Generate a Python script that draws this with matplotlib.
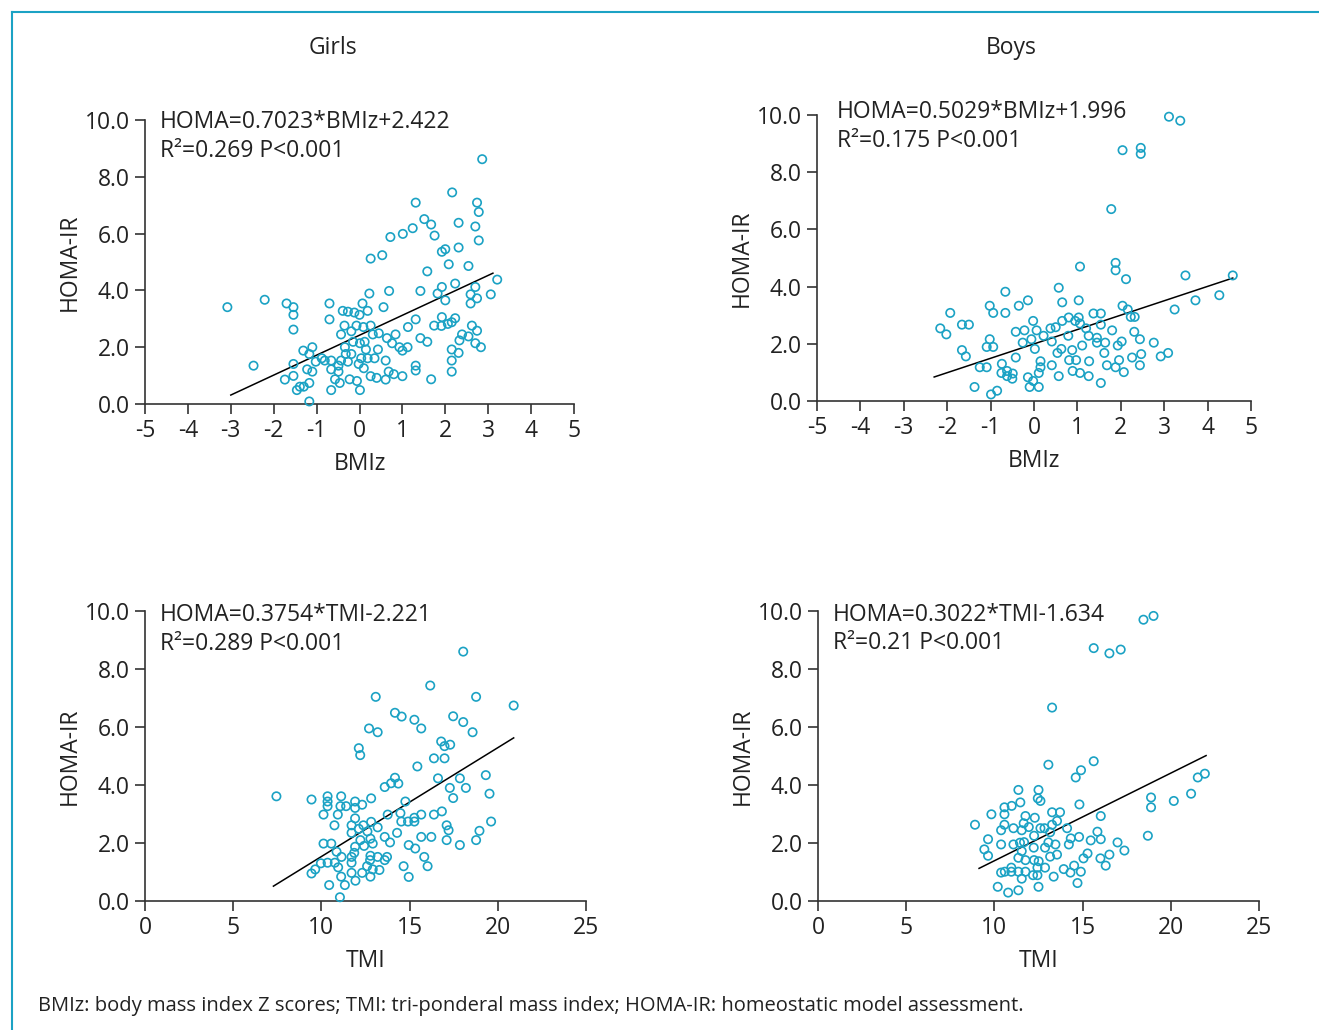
import matplotlib
matplotlib.use("Agg")
import matplotlib.pyplot as plt
from matplotlib.lines import Line2D

plt.rcParams['font.family'] = ['Open Sans', 'DejaVu Sans']
plt.rcParams['axes.unicode_minus'] = False

# ---- data ----
girls_bmiz = [2.86, 2.16, 1.31, 2.74, 2.78, 1.51, 1.67, 2.31, 1.24, 2.70, 1.75, 1.01, 0.72, 2.78, 2.31,
              1.92, 2.00, 0.53, 0.26, 2.08, 2.54, 1.58, 3.21, 2.23, 1.92, 2.70, 1.42, 0.69, 0.23, 1.82,
              2.59, 3.06, 2.74, 2.00, 2.59, 0.07, -0.70, -1.70, -1.54, -3.08, -2.21, 0.56, 0.19, -0.39,
              -0.27, -0.12, 0.00, -1.54, -0.70, 1.31, 1.92, 2.23, 2.15, 2.06, 1.74, 1.91, 2.62, 2.74,
              -0.35, -0.07, 0.26, 0.09, 1.13, -1.54, -0.19, -0.43, 0.31, 0.45, 0.84, 2.39, 2.54, 0.64,
              1.42, 2.33, -0.15, 0.76, 1.58, 2.70, 0.01, 0.12, 0.93, 1.12, 2.83, -0.34, 0.15, 0.43,
              1.00, 2.15, -1.31, -1.10, -1.17, -0.32, -0.19, 2.31, -0.88, -0.81, -1.02, -0.66, -0.43,
              0.04, 0.19, 0.35, 0.61, 2.15, -1.54, -2.47, -0.49, -0.27, -0.02, 1.31, -0.66, -1.22,
              -1.10, -0.49, 0.10, 0.68, 0.80, 1.31, 2.15, -1.54, -1.74, -0.57, -0.46, -0.23, -0.06,
              0.26, 0.40, 0.61, 1.00, 1.67, -1.17, -1.30, -1.39, -1.46, -0.66, 0.01, -1.17]
girls_bmiz_homa = [8.62, 7.45, 7.09, 7.09, 6.76, 6.51, 6.32, 6.38, 6.19, 6.25, 5.93, 5.99, 5.88, 5.76, 5.51,
                   5.36, 5.45, 5.24, 5.12, 4.92, 4.86, 4.67, 4.38, 4.24, 4.12, 4.12, 3.98, 3.98, 3.89, 3.89,
                   3.86, 3.86, 3.72, 3.65, 3.54, 3.54, 3.54, 3.54, 3.41, 3.41, 3.67, 3.41, 3.28, 3.28,
                   3.25, 3.22, 3.14, 3.14, 2.98, 2.98, 3.06, 3.02, 2.88, 2.82, 2.76, 2.75, 2.76, 2.58,
                   2.76, 2.76, 2.76, 2.71, 2.71, 2.62, 2.56, 2.45, 2.45, 2.49, 2.45, 2.45, 2.38, 2.32,
                   2.32, 2.24, 2.19, 2.14, 2.19, 2.14, 2.14, 2.19, 2.00, 2.00, 2.00, 2.00, 1.92, 1.92,
                   1.88, 1.92, 1.88, 2.00, 1.76, 1.76, 1.76, 1.80, 1.61, 1.53, 1.49, 1.53, 1.53,
                   1.61, 1.61, 1.61, 1.53, 1.53, 1.41, 1.35, 1.35, 1.49, 1.41, 1.35, 1.22, 1.22,
                   1.14, 1.14, 1.26, 1.14, 1.05, 1.18, 1.14, 0.99, 0.86, 0.87, 0.74, 0.87, 0.81,
                   0.98, 0.92, 0.86, 0.98, 0.87, 0.74, 0.61, 0.61, 0.49, 0.49, 0.49, 0.09]

boys_bmiz = [3.11, 3.37, 2.04, 2.46, 2.46, 1.78, 1.06, 1.88, 1.88, 2.12, 3.49, 4.58, 4.27, 3.72, 3.24,
             -0.66, 0.57, -0.14, 1.03, 0.65, -0.35, -1.02, -0.94, -0.66, -1.93, 2.04, 2.16, 1.37, 1.54,
             2.23, 2.32, 0.80, 1.03, -0.02, 0.65, 0.95, 1.06, 1.54, -1.66, -1.50, -2.16, -2.02, -0.42,
             -0.22, 0.06, 0.38, 0.50, 1.20, 1.80, 2.31, 0.22, 0.79, 1.26, -0.06, 1.45, 2.44, -1.02,
             0.41, -0.26, 1.45, 1.64, 2.02, 2.76, -1.09, -0.94, 0.02, 1.11, 1.93, -1.66, 0.63, 0.88,
             0.54, 1.62, -1.57, -0.42, 2.26, 2.47, 2.92, 3.09, 0.15, 0.81, 0.97, 1.27, 1.96, -0.74,
             -1.25, -1.09, 0.15, 0.41, 1.68, 1.88, 2.44, -0.62, -0.75, -0.49, 0.11, 0.89, 1.06, 2.07,
             -0.62, -0.50, 0.57, 1.26, -0.14, -0.02, 1.54, -1.37, -0.10, 0.11, -0.85, -0.99]
boys_bmiz_homa = [9.94, 9.80, 8.77, 8.85, 8.64, 6.71, 4.70, 4.83, 4.57, 4.26, 4.39, 4.39, 3.70, 3.52, 3.20,
                  3.82, 3.96, 3.52, 3.52, 3.45, 3.33, 3.33, 3.08, 3.08, 3.08, 3.33, 3.20, 3.06, 3.06,
                  2.94, 2.94, 2.92, 2.92, 2.80, 2.80, 2.80, 2.71, 2.67, 2.67, 2.67, 2.54, 2.33, 2.42,
                  2.47, 2.47, 2.54, 2.58, 2.54, 2.47, 2.42, 2.28, 2.28, 2.28, 2.16, 2.21, 2.16, 2.16,
                  2.08, 2.04, 2.04, 2.04, 2.08, 2.04, 1.89, 1.89, 1.82, 1.94, 1.94, 1.78, 1.82, 1.78,
                  1.68, 1.68, 1.56, 1.52, 1.52, 1.64, 1.56, 1.68, 1.39, 1.43, 1.43, 1.39, 1.43, 1.30,
                  1.18, 1.18, 1.18, 1.25, 1.25, 1.18, 1.25, 1.05, 0.98, 0.96, 0.98, 1.05, 0.98, 1.01,
                  0.87, 0.78, 0.87, 0.87, 0.83, 0.70, 0.63, 0.49, 0.49, 0.49, 0.36, 0.23]

girls_tmi = [18.04, 16.17, 13.08, 18.77, 20.90, 17.47, 14.17, 14.55, 15.27, 18.04, 12.70, 13.19, 15.66,
             18.57, 16.79, 16.98, 17.30, 12.12, 12.20, 16.38, 16.98, 15.44, 16.61, 17.85, 19.32, 14.17,
             13.95, 14.36, 13.59, 17.28, 18.19, 19.53, 17.47, 7.45, 9.44, 10.35, 11.12, 10.35, 10.35,
             11.08, 11.40, 11.91, 11.91, 12.31, 12.82, 14.76, 10.12, 10.93, 11.91, 13.76, 14.48, 15.66,
             16.38, 16.83, 10.74, 11.71, 12.38, 12.82, 14.53, 14.91, 15.27, 15.27, 19.62, 11.71, 12.12,
             12.61, 13.19, 17.10, 17.21, 18.96, 14.29, 12.78, 12.21, 13.59, 15.66, 16.23, 17.10, 18.77,
             10.12, 10.56, 12.91, 13.89, 11.91, 12.42, 14.95, 15.32, 17.85, 10.86, 11.86, 11.14, 11.71,
             12.78, 13.19, 13.72, 15.83, 12.76, 13.59, 10.76, 10.35, 9.97, 11.71, 10.95, 12.59, 12.91,
             13.29, 14.66, 16.02, 9.65, 9.44, 11.71, 12.31, 11.12, 12.78, 11.93, 14.95, 10.44, 11.33,
             11.05]
girls_tmi_homa = [8.60, 7.43, 7.04, 7.04, 6.74, 6.37, 6.49, 6.36, 6.25, 6.17, 5.95, 5.82, 5.95, 5.82,
                  5.50, 5.34, 5.39, 5.27, 5.03, 4.92, 4.92, 4.64, 4.23, 4.23, 4.34, 4.25, 4.06, 4.05,
                  3.93, 3.90, 3.90, 3.70, 3.55, 3.61, 3.50, 3.61, 3.61, 3.43, 3.27, 3.27, 3.27, 3.43,
                  3.21, 3.32, 3.54, 3.43, 2.98, 2.98, 2.85, 2.98, 3.03, 2.98, 2.98, 3.09, 2.61, 2.61,
                  2.61, 2.73, 2.74, 2.74, 2.74, 2.87, 2.74, 2.35, 2.49, 2.40, 2.54, 2.61, 2.44, 2.42,
                  2.35, 2.15, 2.10, 2.21, 2.21, 2.21, 2.10, 2.10, 1.98, 1.98, 1.98, 2.02, 1.87, 1.90,
                  1.93, 1.81, 1.93, 1.70, 1.66, 1.52, 1.52, 1.56, 1.52, 1.52, 1.52, 1.41, 1.41, 1.32,
                  1.32, 1.30, 1.32, 1.16, 1.20, 1.09, 1.07, 1.20, 1.20, 1.09, 0.95, 0.97, 0.97, 0.84,
                  0.84, 0.70, 0.83, 0.55, 0.55, 0.13]

boys_tmi = [18.45, 19.02, 15.63, 16.52, 17.16, 13.27, 13.06, 15.63, 14.61, 14.91, 21.53, 21.93, 21.15,
            20.17, 18.88, 18.88, 18.70, 11.36, 12.50, 12.46, 12.61, 11.47, 10.98, 10.57, 10.57, 9.83,
            14.82, 13.27, 13.72, 11.76, 12.29, 16.03, 8.90, 10.57, 11.66, 11.95, 13.27, 13.55, 11.08,
            10.38, 11.55, 12.61, 12.84, 14.12, 13.16, 15.84, 12.25, 9.64, 14.33, 14.80, 15.46, 16.03,
            16.98, 10.38, 11.08, 11.45, 11.68, 13.06, 13.46, 14.22, 9.43, 12.23, 12.87, 11.55, 9.64,
            11.36, 13.16, 13.55, 15.28, 15.05, 16.01, 16.52, 17.37, 11.76, 12.25, 12.51, 16.31, 10.96,
            12.44, 12.87, 13.93, 14.52, 10.38, 10.59, 10.96, 11.36, 11.76, 14.31, 14.90, 11.55, 12.19,
            12.44, 13.36, 14.71, 10.19, 12.50, 10.78, 11.36]
boys_tmi_homa = [9.70, 9.83, 8.72, 8.54, 8.67, 6.67, 4.70, 4.82, 4.26, 4.51, 4.26, 4.39, 3.70, 3.45,
                 3.57, 3.23, 2.25, 3.83, 3.83, 3.54, 3.45, 3.40, 3.28, 3.23, 2.99, 2.99, 3.33, 3.06,
                 3.06, 2.93, 2.87, 2.93, 2.63, 2.63, 2.68, 2.55, 2.63, 2.76, 2.51, 2.44, 2.44, 2.51,
                 2.51, 2.51, 2.37, 2.39, 2.25, 2.13, 2.16, 2.21, 2.09, 2.13, 2.02, 1.95, 1.95, 2.01,
                 2.03, 2.02, 1.95, 1.95, 1.78, 1.84, 1.84, 1.72, 1.56, 1.49, 1.53, 1.60, 1.64, 1.47,
                 1.47, 1.60, 1.74, 1.41, 1.41, 1.37, 1.22, 1.15, 1.15, 1.15, 1.10, 1.22, 0.98, 1.01,
                 1.01, 1.01, 1.01, 0.98, 1.01, 0.77, 0.89, 0.89, 0.84, 0.62, 0.49, 0.49, 0.29, 0.37]

# fitted lines: slope, intercept, x-range of the drawn line
fits = {
    'gb': (0.7023, 2.422, (-3.0, 3.11)),
    'bb': (0.5029, 1.996, (-2.30, 4.58)),
    'gt': (0.3754, -2.221, (7.28, 20.90)),
    'bt': (0.3022, -1.634, (9.13, 22.0)),
}
eq_text = {
    'gb': ("HOMA=0.7023*BMIz+2.422", "R²=0.269 P<0.001"),
    'bb': ("HOMA=0.5029*BMIz+1.996", "R²=0.175 P<0.001"),
    'gt': ("HOMA=0.3754*TMI-2.221", "R²=0.289 P<0.001"),
    'bt': ("HOMA=0.3022*TMI-1.634", "R²=0.21 P<0.001"),
}
# where the equation lines sit (axes fraction): x, y line1, y line2
eq_pos = {
    'gb': (0.035, 0.993, 0.891),
    'bb': (0.046, 1.01, 0.909),
    'gt': (0.034, 0.986, 0.886),
    'bt': (0.034, 0.986, 0.89),
}

teal = '#1ba2c4'
txt = '#222222'
W, H = 1319, 1030
fig = plt.figure(figsize=(W / 100, H / 100), dpi=100)


def px_axes(x0, y_top, x1, y_bot):
    return fig.add_axes([x0 / W, 1 - y_bot / H, (x1 - x0) / W, (y_bot - y_top) / H])


panels = [
    ('gb', girls_bmiz, girls_bmiz_homa, (145, 120, 574, 404), 'BMIz', (-5, 5), range(-5, 6)),
    ('bb', boys_bmiz, boys_bmiz_homa, (817, 115, 1251, 401), 'BMIz', (-5, 5), range(-5, 6)),
    ('gt', girls_tmi, girls_tmi_homa, (145, 611, 586, 901), 'TMI', (0, 25), range(0, 26, 5)),
    ('bt', boys_tmi, boys_tmi_homa, (818, 611, 1259, 901), 'TMI', (0, 25), range(0, 26, 5)),
]

fs = 16.5
for key, xs, ys, box, xlab, xlim, xt in panels:
    ax = px_axes(*box)
    ax.scatter(xs, ys, s=36, facecolors='none', edgecolors=teal, linewidths=1.2, clip_on=False, zorder=3)
    a, b, (lo, hi) = fits[key]
    ax.add_line(Line2D([lo, hi], [a * lo + b, a * hi + b], color='black', lw=1.1, zorder=2))
    ax.set_xlim(*xlim)
    ax.set_ylim(0, 10)
    ax.set_xticks(list(xt))
    ax.set_yticks([0, 2, 4, 6, 8, 10])
    ax.set_yticklabels(['0.0', '2.0', '4.0', '6.0', '8.0', '10.0'])
    for s in ['top', 'right']:
        ax.spines[s].set_visible(False)
    for s in ['left', 'bottom']:
        ax.spines[s].set_color('#333333')
        ax.spines[s].set_linewidth(1.2)
    ax.tick_params(direction='out', length=7, width=1.2, color='#333333', labelsize=fs, pad=4,
                   labelcolor=txt)
    ax.set_xlabel(xlab, fontsize=fs, labelpad=6, color=txt)
    ax.set_ylabel('HOMA-IR', fontsize=fs, labelpad=2, color=txt)
    ax.patch.set_alpha(0)
    l1, l2 = eq_text[key]
    tx, ty1, ty2 = eq_pos[key]
    ax.text(tx, ty1, l1, transform=ax.transAxes, fontsize=fs, va='center', ha='left', color=txt)
    ax.text(tx, ty2, l2, transform=ax.transAxes, fontsize=fs, va='center', ha='left', color=txt)

fig.text(333 / W, 1 - 48 / H, 'Girls', fontsize=fs, ha='center', va='center', color=txt)
fig.text(1011 / W, 1 - 48 / H, 'Boys', fontsize=fs, ha='center', va='center', color=txt)
fig.text(38 / W, 1 - 1006 / H,
         'BMIz: body mass index Z scores; TMI: tri-ponderal mass index; HOMA-IR: homeostatic model assessment.',
         fontsize=14.5, ha='left', va='center', color=txt)

# teal frame line top and left
fig.add_artist(Line2D([12 / W, 1.0], [1 - 12 / H, 1 - 12 / H], transform=fig.transFigure, color=teal, lw=1.5))
fig.add_artist(Line2D([12 / W, 12 / W], [1 - 12 / H, 0], transform=fig.transFigure, color=teal, lw=1.5))

fig.savefig('out.png', dpi=100)
